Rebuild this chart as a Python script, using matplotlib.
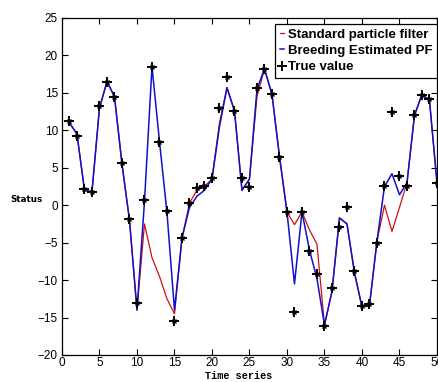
import matplotlib.pyplot as plt
import numpy as np

# time steps and the three series
t = np.arange(1, 51)
true_val = [11.2, 9.2, 2.2, 1.7, 13.2, 16.5, 14.4, 5.6, -1.8, -13.0,
            0.7, 18.5, 8.5, -0.8, -15.5, -4.4, 0.3, 2.3, 2.6, 3.6,
            13.0, 17.1, 12.6, 3.6, 2.4, 15.6, 18.2, 14.9, 6.5, -0.9,
            -14.2, -0.9, -6.1, -9.2, -16.1, -11.0, -2.9, -0.3, -8.8, -13.5,
            -13.2, -5.0, 2.6, 12.4, 3.9, 2.6, 12.0, 14.7, 14.2, 3.0]
breeding_pf = [11.0, 9.5, 2.0, 1.8, 13.0, 16.5, 14.5, 5.5, -2.0, -14.0,
               0.5, 18.5, 8.5, -1.0, -14.0, -4.4, -0.3, 1.2, 2.0, 3.5,
               10.5, 15.7, 12.6, 2.0, 3.5, 15.5, 18.2, 14.8, 6.5, -0.9,
               -10.5, -0.9, -6.0, -9.8, -16.0, -11.5, -1.7, -2.5, -9.0, -13.6,
               -13.4, -4.8, 2.5, 4.2, 1.4, 3.0, 12.0, 14.8, 14.0, 3.0]
standard_pf = [11.0, 9.5, 2.0, 1.8, 13.0, 16.5, 14.5, 5.5, -2.0, -14.0,
               -2.5, -7.0, -9.5, -12.5, -14.5, -4.4, 0.3, 2.0, 2.5, 3.5,
               11.0, 15.7, 12.6, 2.0, 3.5, 14.5, 18.2, 14.8, 6.5, -0.9,
               -2.6, -0.9, -3.3, -5.2, -16.0, -11.5, -1.7, -2.5, -9.0, -13.6,
               -13.4, -4.8, 0.0, -3.5, -0.3, 3.0, 12.0, 14.8, 14.0, 3.0]

plt.rcParams['font.family'] = ['Liberation Sans Narrow', 'Liberation Sans', 'DejaVu Sans']

fig = plt.figure(figsize=(4.39, 3.82), dpi=100)
ax = fig.add_axes([0.1412, 0.0707, 0.8542, 0.8822])

ax.plot(t, standard_pf, color='#d01010', lw=0.9, label='Standard particle filter')
ax.plot(t, breeding_pf, color='#1010c8', lw=1.1, label='Breeding Estimated PF')
# MATLAB style '*' marker: a + with a smaller x on top
ax.plot(t, true_val, ls='none', marker='+', ms=7, color='black',
        mew=1.4, label='True value')
ax.plot(t, true_val, ls='none', marker='x', ms=3.5, color='black', mew=1.0)

ax.set_xlim(0, 50)
ax.set_ylim(-20, 25)
ax.set_xticks(np.arange(0, 51, 5))
ax.set_yticks(np.arange(-20, 26, 5))
ax.tick_params(direction='in', top=True, right=True, length=4, width=0.8,
               labelsize=8.5, pad=3)
ax.tick_params(axis='x', pad=1.5)
for s in ax.spines.values():
    s.set_linewidth(0.9)

ax.set_xlabel('Time series', fontfamily='Liberation Mono', fontweight='bold', fontsize=7.3)
ax.xaxis.set_label_coords(0.47, -0.048)
ax.set_ylabel('Status', rotation=0, fontfamily='DejaVu Sans', fontweight='bold',
              fontsize=6.3, ha='center', va='center')
ax.yaxis.set_label_coords(-0.095, 0.46)

leg = ax.legend(loc='upper right', bbox_to_anchor=(1.0, 1 - 6 / 337), borderaxespad=0,
                fancybox=False, edgecolor='black', framealpha=1, handlelength=0.35,
                handletextpad=0.25, labelspacing=0.3, borderpad=0.35,
                prop={'weight': 'bold', 'size': 9.5})
leg.get_frame().set_linewidth(0.9)

fig.savefig('out.png', dpi=100)
